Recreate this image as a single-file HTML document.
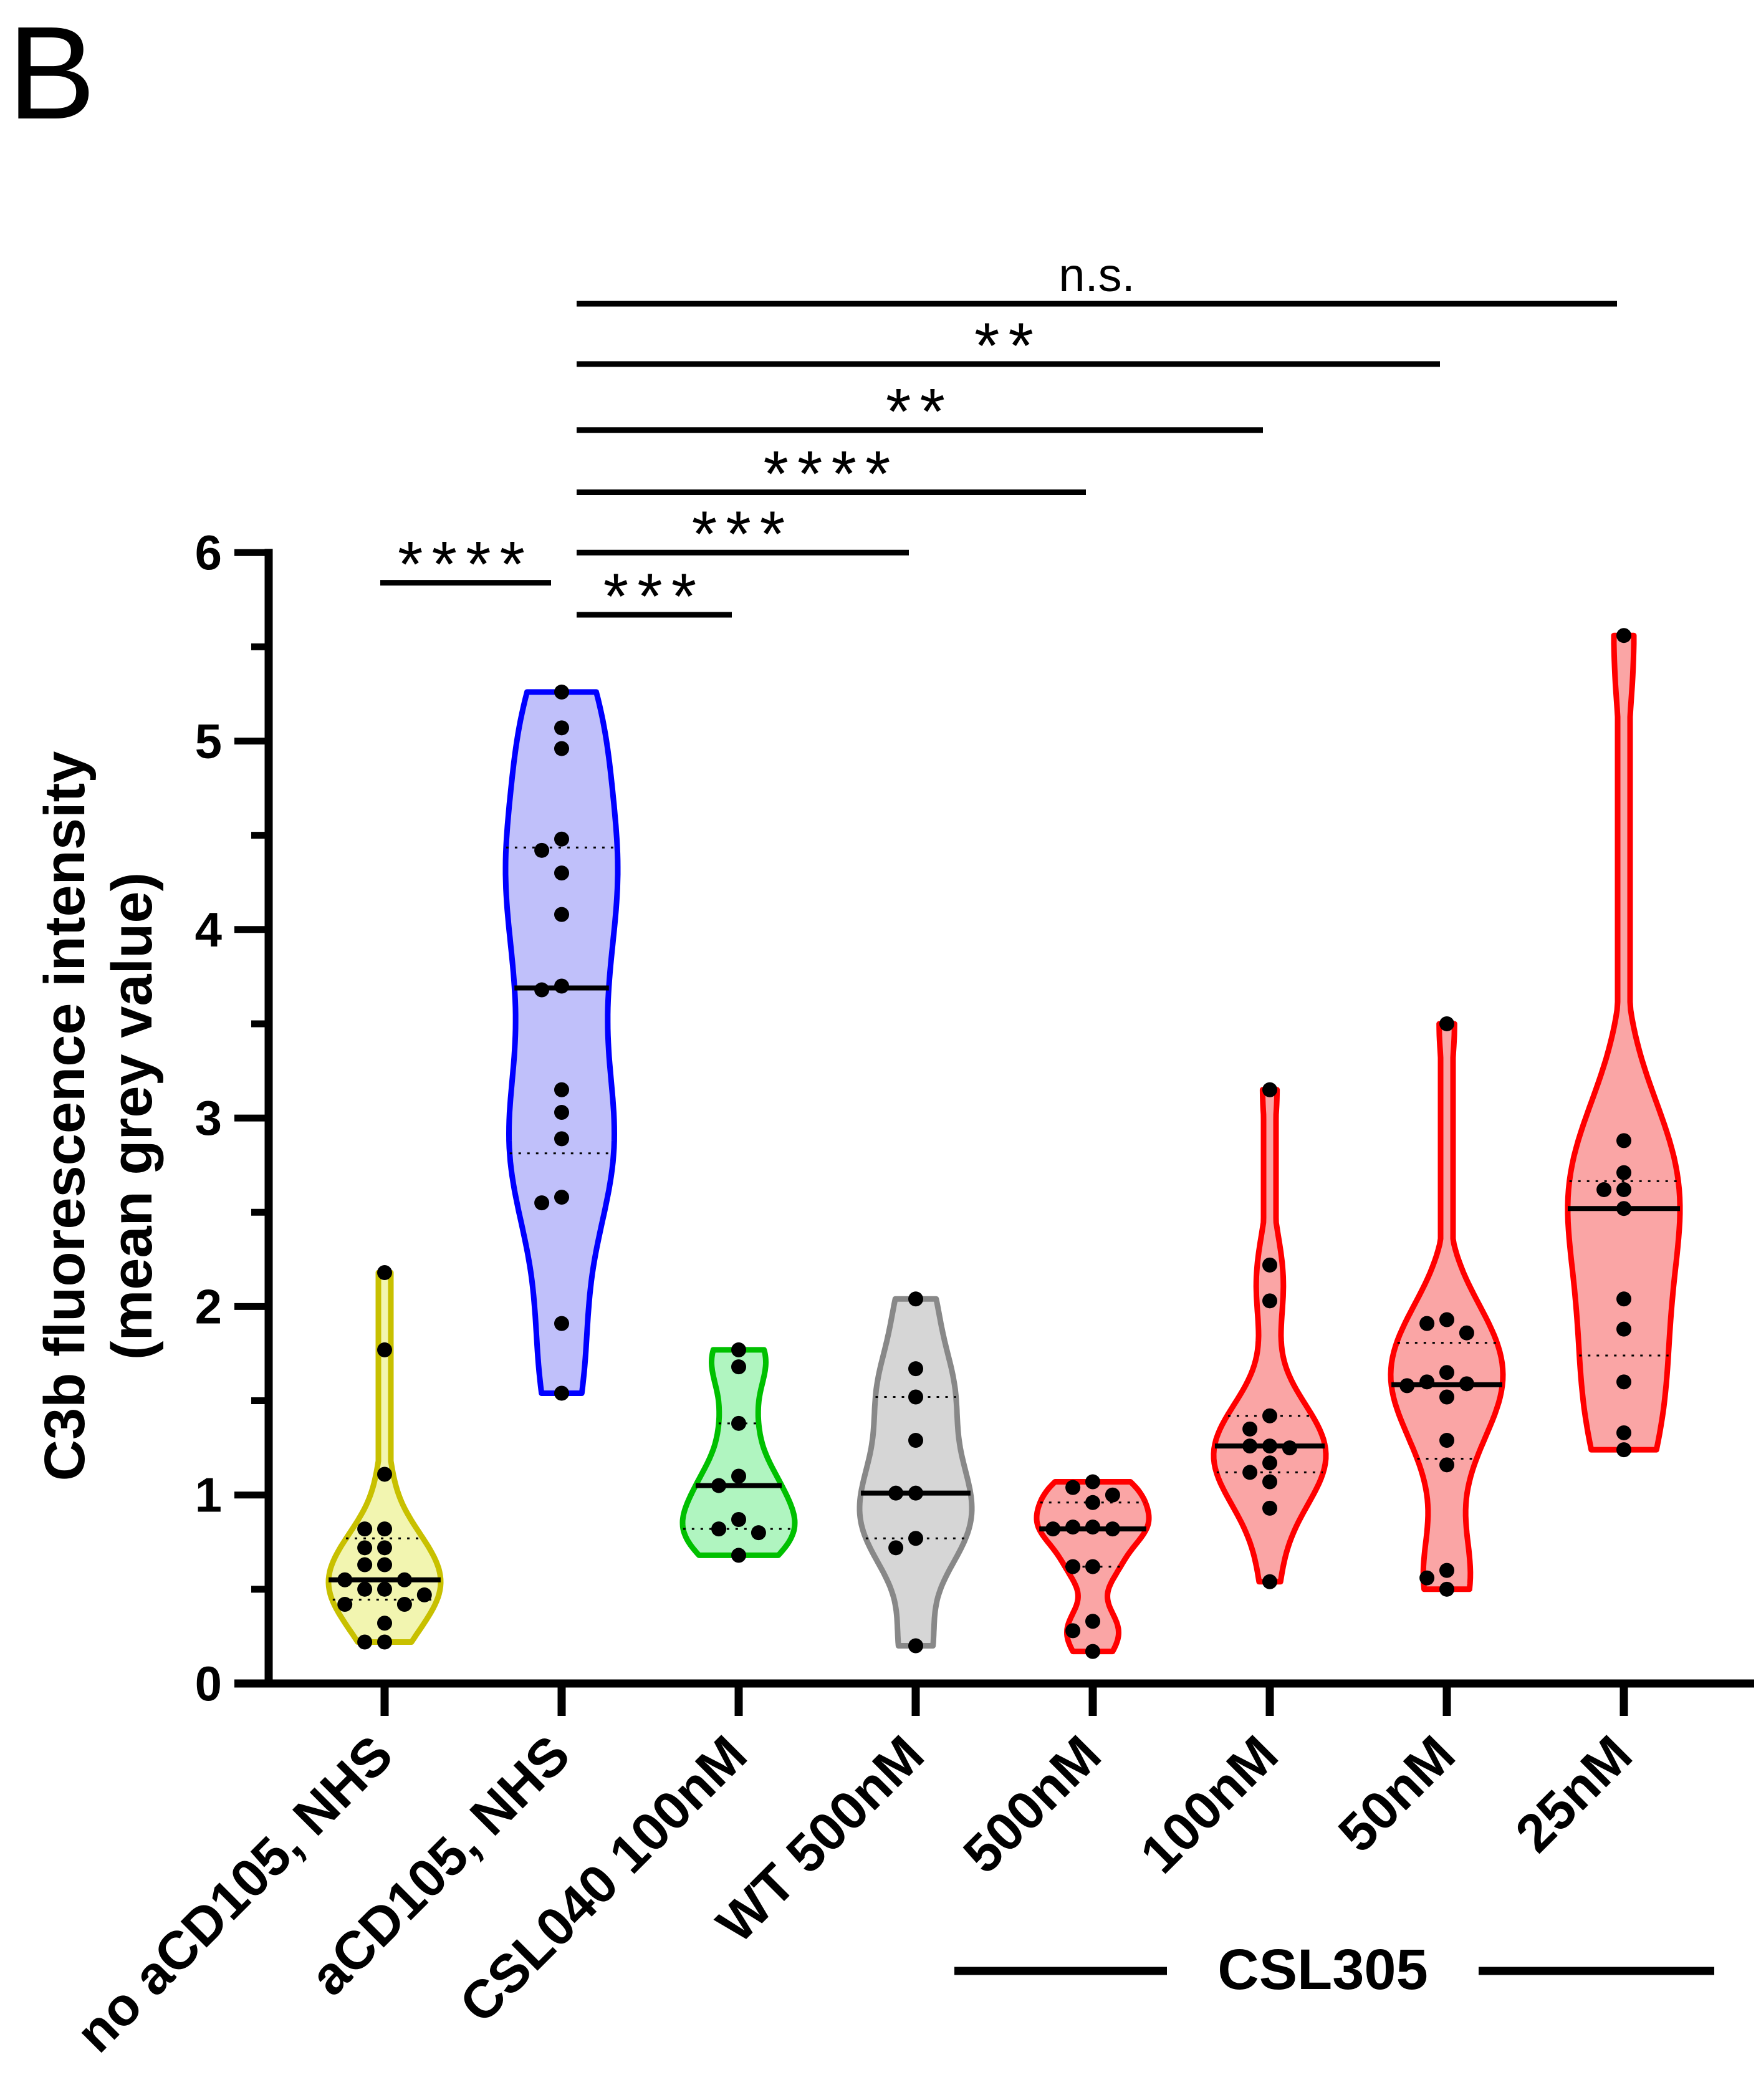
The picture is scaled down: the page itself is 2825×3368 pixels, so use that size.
<!DOCTYPE html>
<html><head><meta charset="utf-8"><style>
html,body{margin:0;padding:0;background:#fff}
svg{display:block}
text{font-family:"Liberation Sans",Arial,sans-serif}
</style></head><body>
<svg id="chart" xmlns="http://www.w3.org/2000/svg" width="2825" height="3368" viewBox="0 0 2825 3368">
<text x="12" y="190" font-size="212">B</text>
<g id="plot"></g>
</svg>
<script>
const categories = ["no aCD105, NHS","aCD105, NHS","CSL040 100nM","WT 500nM","500nM","100nM","50nM","25nM"];
const yTicks = [0,1,2,3,4,5,6];
const g0 = [2.18,1.77,1.11,0.82,0.82,0.72,0.72,0.63,0.63,0.55,0.55,0.50,0.50,0.47,0.42,0.42,0.32,0.22,0.22];
const g1 = [5.26,5.07,4.96,4.48,4.42,4.30,4.08,3.70,3.68,3.15,3.03,2.89,2.58,2.55,1.91,1.54];
const g2 = [1.77,1.68,1.38,1.10,1.05,0.87,0.82,0.80,0.68];
const g3 = [2.04,1.67,1.52,1.29,1.01,1.01,0.77,0.72,0.20];
const g4 = [1.07,1.04,1.00,0.96,0.83,0.83,0.82,0.82,0.62,0.62,0.33,0.28,0.17];
const g5 = [3.15,2.22,2.03,1.42,1.35,1.26,1.26,1.25,1.17,1.12,1.07,0.93,0.54];
const g6 = [3.50,1.93,1.91,1.86,1.65,1.60,1.59,1.58,1.52,1.29,1.16,0.60,0.56,0.50];
const g7 = [5.56,2.88,2.71,2.62,2.62,2.52,2.04,1.88,1.60,1.33,1.24];
const groups = [g0,g1,g2,g3,g4,g5,g6,g7];
const strokeColors = ["#c8c000","#0000ff","#00c000","#888888","#ff0000","#ff0000","#ff0000","#ff0000"];
const fillColors = ["#f2f5b0","#c0c0fa","#b0f5c0","#d6d6d6","#faa5a5","#faa5a5","#faa5a5","#faa5a5"];
const sigFrom = [0,1,1,1,1,1,1];
const sigTo = [1,2,3,4,5,6,7];
const sigLabels = ["****","***","***","****","**","**","n.s."];
const sigLevels = [5.84,5.67,6.0,6.32,6.65,7.0,7.32];

const NS="http://www.w3.org/2000/svg";
const plot=document.getElementById('plot');
const X0=431, Y0=2700, PXU=302.3, X1=2814;
function yS(v){return Y0-v*PXU;}
function xS(i){return 617+i*284;}
function mk(tag,attrs,parent){const e=document.createElementNS(NS,tag);for(const k in attrs)e.setAttribute(k,attrs[k]);(parent||plot).appendChild(e);return e;}
function quant(a,p){const s=[...a].sort((x,y)=>x-y);const h=(s.length-1)*p;const l=Math.floor(h);return s[l]+(s[Math.min(l+1,s.length-1)]-s[l])*(h-l);}

groups.forEach((d,i)=>{
  const n=d.length, mean=d.reduce((a,b)=>a+b,0)/n;
  const sd=Math.sqrt(d.reduce((a,b)=>a+(b-mean)**2,0)/(n-1));
  const bw=0.6*sd*Math.pow(n,-0.2);
  const mn=Math.min(...d), mx=Math.max(...d);
  const steps=100, dens=[];
  for(let k=0;k<=steps;k++){const v=mn+(mx-mn)*k/steps;let s=0;d.forEach(p=>{s+=Math.exp(-0.5*((v-p)/bw)**2);});dens.push([v,s]);}
  const dm=Math.max(...dens.map(q=>q[1]));
  const half=90, cx=xS(i);
  const wf=s=>Math.max(s/dm*half,10);
  let pts=dens.map(q=>[cx+wf(q[1]),yS(q[0])]);
  let pts2=dens.slice().reverse().map(q=>[cx-wf(q[1]),yS(q[0])]);
  const all=pts.concat(pts2);
  const v=mk('path',{d:'M'+all.map(p=>p[0].toFixed(1)+','+p[1].toFixed(1)).join('L')+'Z',fill:fillColors[i],stroke:strokeColors[i],'stroke-width':9,'stroke-linejoin':'round'});
  
  
  const wAt=val=>{let best=dens[0];dens.forEach(q=>{if(Math.abs(q[0]-val)<Math.abs(best[0]-val))best=q;});return wf(best[1]);};
  [0.25,0.75].forEach(p=>{const q=quant(d,p);const w=wAt(q);const l=mk('line',{x1:cx-w,x2:cx+w,y1:yS(q),y2:yS(q),stroke:'#000','stroke-width':3,'stroke-dasharray':'4 10'});
    });
  const med=quant(d,0.5),wm=wAt(med);
  const ml=mk('line',{x1:cx-wm,x2:cx+wm,y1:yS(med),y2:yS(med),stroke:'#000','stroke-width':8});
  
  const placed=[];
  [...d].sort((a,b)=>b-a).forEach(val=>{
    const y=yS(val);let off=0;const cands=[0,-58,58,-116,116,-174,174];
    for(const c of cands){if(placed.every(p=>Math.hypot(p[0]-c,p[1]-y)>=26)){off=c;break;}}
    placed.push([off,y]);
    const c=mk('circle',{cx:cx+off*0.55,cy:y,r:12,fill:'#000'});
    
  });
});

let e=mk('line',{x1:X0,x2:X0,y1:yS(6)-6,y2:Y0+6,stroke:'#000','stroke-width':13});

e=mk('line',{x1:X0-55,x2:X1,y1:Y0,y2:Y0,stroke:'#000','stroke-width':13});

for(let v=0;v<=6;v+=0.5){const maj=Number.isInteger(v);
  const t=mk('line',{x1:maj?X0-55:X0-28,x2:X0,y1:yS(v),y2:yS(v),stroke:'#000','stroke-width':11});
  }
yTicks.forEach(v=>{const t=mk('text',{x:356,y:yS(v)+27,'font-size':78,'font-weight':'bold','text-anchor':'end'});t.textContent=v;
  });
const yt=mk('text',{transform:'translate(135,1790) rotate(-90)','font-size':92,'font-weight':'bold','text-anchor':'middle'});

yt.textContent='C3b fluorescence intensity';
const yt2=mk('text',{transform:'translate(243,1790) rotate(-90)','font-size':92,'font-weight':'bold','text-anchor':'middle'});

yt2.textContent='(mean grey value)';
categories.forEach((c,i)=>{const x=xS(i);
  const t=mk('line',{x1:x,x2:x,y1:Y0,y2:2752,stroke:'#000','stroke-width':13});
  
  const lab=mk('text',{transform:`translate(${x+18},${2820}) rotate(-45)`,'font-size':86,'font-weight':'bold','text-anchor':'end'});
  lab.textContent=c;
  
});
e=mk('line',{x1:1531,x2:1872,y1:3161,y2:3161,stroke:'#000','stroke-width':13});
e=mk('line',{x1:2372,x2:2750,y1:3161,y2:3161,stroke:'#000','stroke-width':13});
e=mk('text',{x:2122,y:3190,'font-size':92,'font-weight':'bold','text-anchor':'middle'});e.textContent='CSL305';

sigLabels.forEach((s,k)=>{
  const y=yS(sigLevels[k]);
  const xa=k===0?610:925, xb=k===0?884:xS(sigTo[k])-11;
  const l=mk('line',{x1:xa,x2:xb,y1:y,y2:y,stroke:'#000','stroke-width':9});
  
  const isNS=s==='n.s.';
  const t=mk('text',{x:(xa+xb)/2,y:isNS?y-20:y+6,'font-size':isNS?76:104,'text-anchor':'middle','letter-spacing':isNS?0:14});
  t.textContent=s;
  
});
</script>
</body></html>
